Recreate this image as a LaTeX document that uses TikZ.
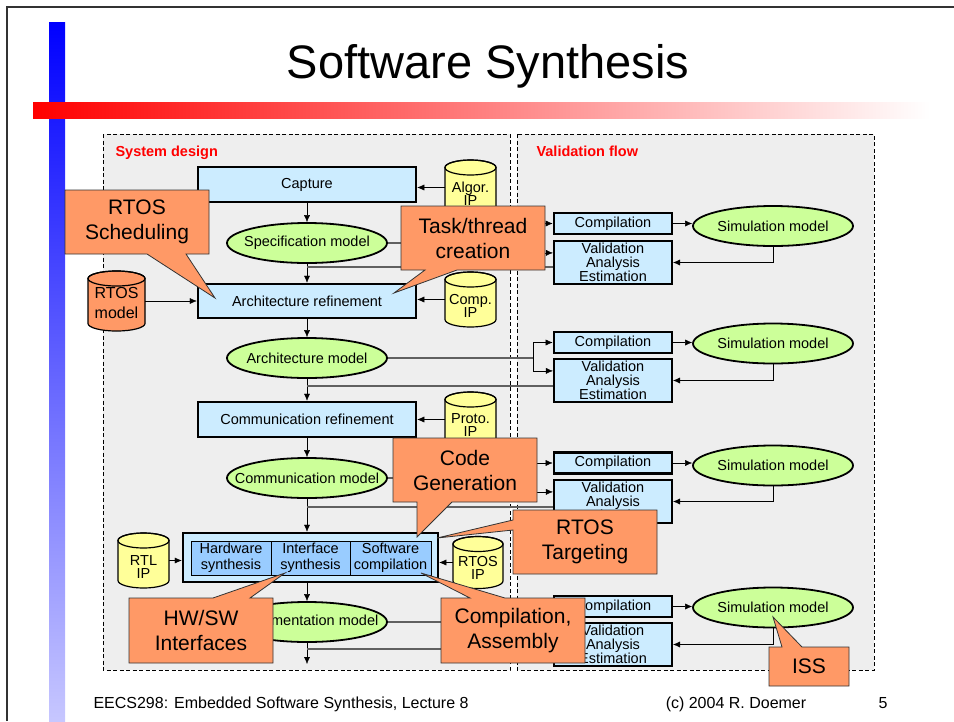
\documentclass[tikz,border=0pt]{standalone}
\usepackage{fontspec}
\setmainfont{Liberation Sans}
\usepackage{xcolor}
\usepackage{tikz}
\usetikzlibrary{arrows.meta,shapes.geometric}

\definecolor{boxblue}{HTML}{CCECFF}
\definecolor{innerblue}{HTML}{99CCFF}
\definecolor{modelgreen}{HTML}{CCFF99}
\definecolor{ipyellow}{HTML}{FFFF99}
\definecolor{calloutorange}{HTML}{FF9966}
\definecolor{regiongray}{HTML}{EEEEEE}
\definecolor{flowgray}{HTML}{606060}

\newcommand{\slim}[1]{\makebox[0pt]{#1}}
% database cylinder: {name}{x}{y}{half width}{half height}{fill}
\newcommand{\ipcyl}[6]{%
  \path[draw, line width=1.2pt, fill=#6] (#2-#4,#3-#5+7.5) -- (#2-#4,#3+#5-7.5)
    arc[start angle=180, end angle=360, x radius=#4pt, y radius=7.5pt]
    -- (#2+#4,#3-#5+7.5)
    arc[start angle=0, end angle=180, x radius=#4pt, y radius=7.5pt] -- cycle;
  \draw[line width=1.2pt] (#2,#3-#5+7.5) ellipse[x radius=#4pt, y radius=7.5pt];
  \node[minimum width=2*#4pt, minimum height=2*#5pt, inner sep=0pt] (#1) at (#2,#3) {};
}

\begin{document}
\begin{tikzpicture}[x=1pt,y=-1pt,
  >={Latex[length=7pt,width=6pt]},
  txt/.style={font=\fontsize{14.5pt}{15pt}\selectfont},
  flowbox/.style={txt, draw, line width=2.5pt, fill=boxblue, minimum width=218pt, minimum height=35pt, inner sep=0pt},
  modelell/.style={txt, ellipse, draw, line width=1.8pt, fill=modelgreen, minimum width=160pt, minimum height=40pt, inner sep=0pt},
  implbox/.style={draw, line width=2.5pt, fill=boxblue, minimum width=255pt, minimum height=49pt, inner sep=0pt},
  innerbox/.style={draw, line width=0.8pt, fill=innerblue, minimum height=34pt, inner sep=0pt, align=center, font=\fontsize{14.5pt}{16pt}\selectfont},
  dbtext/.style={align=center, inner sep=0pt, font=\fontsize{14.5pt}{13pt}\selectfont},
  compbox/.style={txt, draw, line width=2.8pt, fill=boxblue, minimum width=118pt, minimum height=21pt, inner sep=0pt},
  valbox/.style={draw, line width=2.2pt, fill=boxblue, minimum width=118pt, minimum height=43pt, inner sep=0pt, align=center, font=\fontsize{14.5pt}{13.5pt}\selectfont},
  tovalid/.style={flowgray, line width=1.3pt},
  feedline/.style={flowgray, line width=1.3pt},
  region/.style={draw, dashed, dash pattern=on 4pt off 2.5pt, line width=1pt, fill=regiongray},
  regionlabel/.style={anchor=base west, text=red, font=\bfseries\fontsize{14.5pt}{15pt}\selectfont},
  callout/.style={draw=black!80, line width=0.8pt, fill=calloutorange},
  callouttext/.style={align=center, font=\fontsize{21pt}{25pt}\selectfont},
  footer/.style={anchor=base, font=\fontsize{16pt}{18pt}\selectfont}]

\useasboundingbox (0,0) rectangle (954,721);

% slide decoration
\draw[line width=1.5pt, black!80] (7,721) -- (7,7) -- (954,7);
\shade[top color=blue, bottom color=blue!22] (49,22) rectangle (65,721);
\shade[left color=red, right color=white] (33,102) rectangle (930,118);
\node[anchor=base, font=\fontsize{47pt}{50pt}\selectfont] (title) at (488,78) {Software Synthesis};

% regions
\draw[region] (103,134) rectangle (510,670);
\draw[region] (517,134) rectangle (874,670);
\node[regionlabel] (syslabel) at (112,156) {System design};
\node[regionlabel] (vallabel) at (533,156) {Validation flow};

% system design flow
\node[flowbox] (capture) at (307,184.5) {Capture};
\node[modelell] (spec) at (307,243) {\slim{Specification model}};
\node[flowbox, minimum height=34pt] (archref) at (307,301) {Architecture refinement};
\node[modelell] (archmodel) at (307,358) {\slim{Architecture model}};
\node[flowbox] (commref) at (307,419.5) {Communication refinement};
\node[modelell] (commmodel) at (307,478) {\slim{Communication model}};
\node[implbox] (impl) at (310.5,557.5) {};
\node[innerbox, minimum width=80pt] (hwsyn) at (231,558) {Hardware\\synthesis};
\node[innerbox, minimum width=79pt] (ifsyn) at (310.5,558) {Interface\\synthesis};
\node[innerbox, minimum width=81pt] (swcomp) at (390.5,558) {Software\\compilation};
\node[modelell] (implmodel) at (307,622) {\slim{Implementation model}};
\coordinate (flowend) at (307,664);

% IP databases
\ipcyl{algorip}{470.5}{187.5}{25.5}{27.5}{ipyellow}
\node[dbtext] (algortxt) at (470.5,193.5) {Algor.\\IP};
\ipcyl{compip}{470.5}{299.5}{25.5}{27.5}{ipyellow}
\node[dbtext] (compiptxt) at (470.5,305.5) {Comp.\\IP};
\ipcyl{protoip}{470.5}{419.5}{25.5}{27.5}{ipyellow}
\node[dbtext] (prototxt) at (470.5,425.5) {Proto.\\IP};
\ipcyl{rtosmodel}{116.5}{301}{28.5}{30}{calloutorange}
\node[dbtext, font=\fontsize{16pt}{20pt}\selectfont] (rtosmodeltxt) at (116.5,303) {RTOS\\model};
\ipcyl{rtlip}{143.5}{560.5}{25.5}{27.5}{ipyellow}
\node[dbtext] (rtltxt) at (143.5,567) {RTL\\IP};
\ipcyl{rtosip}{478}{562.5}{25}{26}{ipyellow}
\node[dbtext] (rtosiptxt) at (478,567.5) {RTOS\\IP};

\draw[->] (capture) -- (spec);
\draw[->] (spec) -- (archref);
\draw[->] (archref) -- (archmodel);
\draw[->] (archmodel) -- (commref);
\draw[->] (commref) -- (commmodel);
\draw[->] (commmodel) -- (commmodel |- impl.north);
\draw[->] (impl.south -| implmodel) -- (implmodel);
\draw[->] (implmodel) -- (flowend);

\draw[->] (algorip) -- (algorip -| capture.east);
\draw[->] (compip) -- (compip -| archref.east);
\draw[->] (protoip) -- (protoip -| commref.east);
\draw[->] (rtosmodel) -- (rtosmodel -| archref.west);
\draw[->] (rtlip) -- (rtlip -| impl.west);
\draw[->] (rtosip) -- (rtosip -| impl.east);

% validation flow
\node[compbox] (comp1) at (613,223.5) {Compilation};
\node[valbox] (val1) at (613,262.5) {Validation\\Analysis\\Estimation};
\node[modelell] (sim1) at (773,226) {\slim{Simulation model}};
\node[compbox] (comp2) at (613,342.5) {Compilation};
\node[valbox] (val2) at (613,380.5) {Validation\\Analysis\\Estimation};
\node[modelell] (sim2) at (773,343.5) {\slim{Simulation model}};
\node[compbox] (comp3) at (613,463) {Compilation};
\node[valbox] (val3) at (613,501.5) {Validation\\Analysis\\Estimation};
\node[modelell] (sim3) at (773,465.5) {\slim{Simulation model}};
\node[compbox] (comp4) at (613,606.5) {Compilation};
\node[valbox] (val4) at (613,644.5) {Validation\\Analysis\\Estimation};
\node[modelell] (sim4) at (773,607.5) {\slim{Simulation model}};

\coordinate (split1) at (533,243);
\coordinate (split2) at (533,358);
\coordinate (split3) at (533,478);
\coordinate (split4) at (533,622);
\coordinate (fb1) at (307,267);
\coordinate (fb2) at (307,386);
\coordinate (fb3) at (307,507);
\coordinate (fb4) at (307,649);

\draw[tovalid] (spec) -- (split1);
\draw[tovalid] (archmodel) -- (split2);
\draw[tovalid] (commmodel) -- (split3);
\draw[tovalid] (implmodel) -- (split4);
\draw[->] (split1) |- (comp1);
\draw[->] (split1) |- ([yshift=-13pt]val1.north west);
\draw[->] (split2) |- (comp2);
\draw[->] (split2) |- ([yshift=-13pt]val2.north west);
\draw[->] (split3) |- (comp3);
\draw[->] (split3) |- ([yshift=-13pt]val3.north west);
\draw[->] (split4) |- (comp4);
\draw[->] (split4) |- ([yshift=-13pt]val4.north west);
\draw[feedline] (fb1) -- (fb1 -| val1.west);
\draw[feedline] (fb2) -- (fb2 -| val2.west);
\draw[feedline] (fb3) -- (fb3 -| val3.west);
\draw[feedline] (fb4) -- (fb4 -| val4.west);

\draw[->] (comp1) -- (comp1 -| sim1.west);
\draw[->] (comp2) -- (comp2 -| sim2.west);
\draw[->] (comp3) -- (comp3 -| sim3.west);
\draw[->] (comp4) -- (comp4 -| sim4.west);
\draw[->] (sim1) |- (val1);
\draw[->] (sim2) |- (val2);
\draw[->] (sim3) |- (val3);
\draw[->] (sim4) |- (val4);

% callouts
\draw[callout] (65,190) -- (209,190) -- (209,254) -- (186,254) -- (215,298) -- (147,254) -- (65,254) -- cycle;
\node[callouttext] (rtossched) at (137,222) {RTOS\\Scheduling};
\draw[callout] (401,206) -- (545,206) -- (545,270) -- (457,270) -- (394,293) -- (425,270) -- (401,270) -- cycle;
\node[callouttext] (taskthread) at (473,238) {Task/thread\\creation};
\draw[callout] (393,438) -- (537,438) -- (537,502) -- (452,502) -- (417,537) -- (417,502) -- (393,502) -- cycle;
\node[callouttext] (codegen) at (465,470) {Code\\Generation};
\draw[callout] (513,510) -- (657,510) -- (657,574) -- (513,574) -- (513,530) -- (437,538) -- (513,520) -- cycle;
\node[callouttext] (rtostarget) at (585,542) {RTOS\\Targeting};
\draw[callout] (129,598) -- (213,598) -- (285,573) -- (250,598) -- (273,598) -- (273,663) -- (129,663) -- cycle;
\node[callouttext] (hwsw) at (201,630.5) {HW/SW\\Interfaces};
\draw[callout] (441,598) -- (470,598) -- (421,573) -- (505,598) -- (585,598) -- (585,663) -- (441,663) -- cycle;
\node[callouttext] (compasm) at (513,630.5) {Compilation,\\Assembly};
\draw[callout] (769,647) -- (782,647) -- (773,617) -- (802,647) -- (849,647) -- (849,686) -- (769,686) -- cycle;
\node[callouttext] (iss) at (809,666.5) {ISS};

% footer
\node[footer, anchor=base west] (footleft) at (90,708) {EECS298: Embedded Software Synthesis, Lecture 8};
\node[footer] (footmid) at (736,708) {(c) 2004 R. Doemer};
\node[footer] (pagenum) at (883,708) {5};
\end{tikzpicture}
\end{document}
